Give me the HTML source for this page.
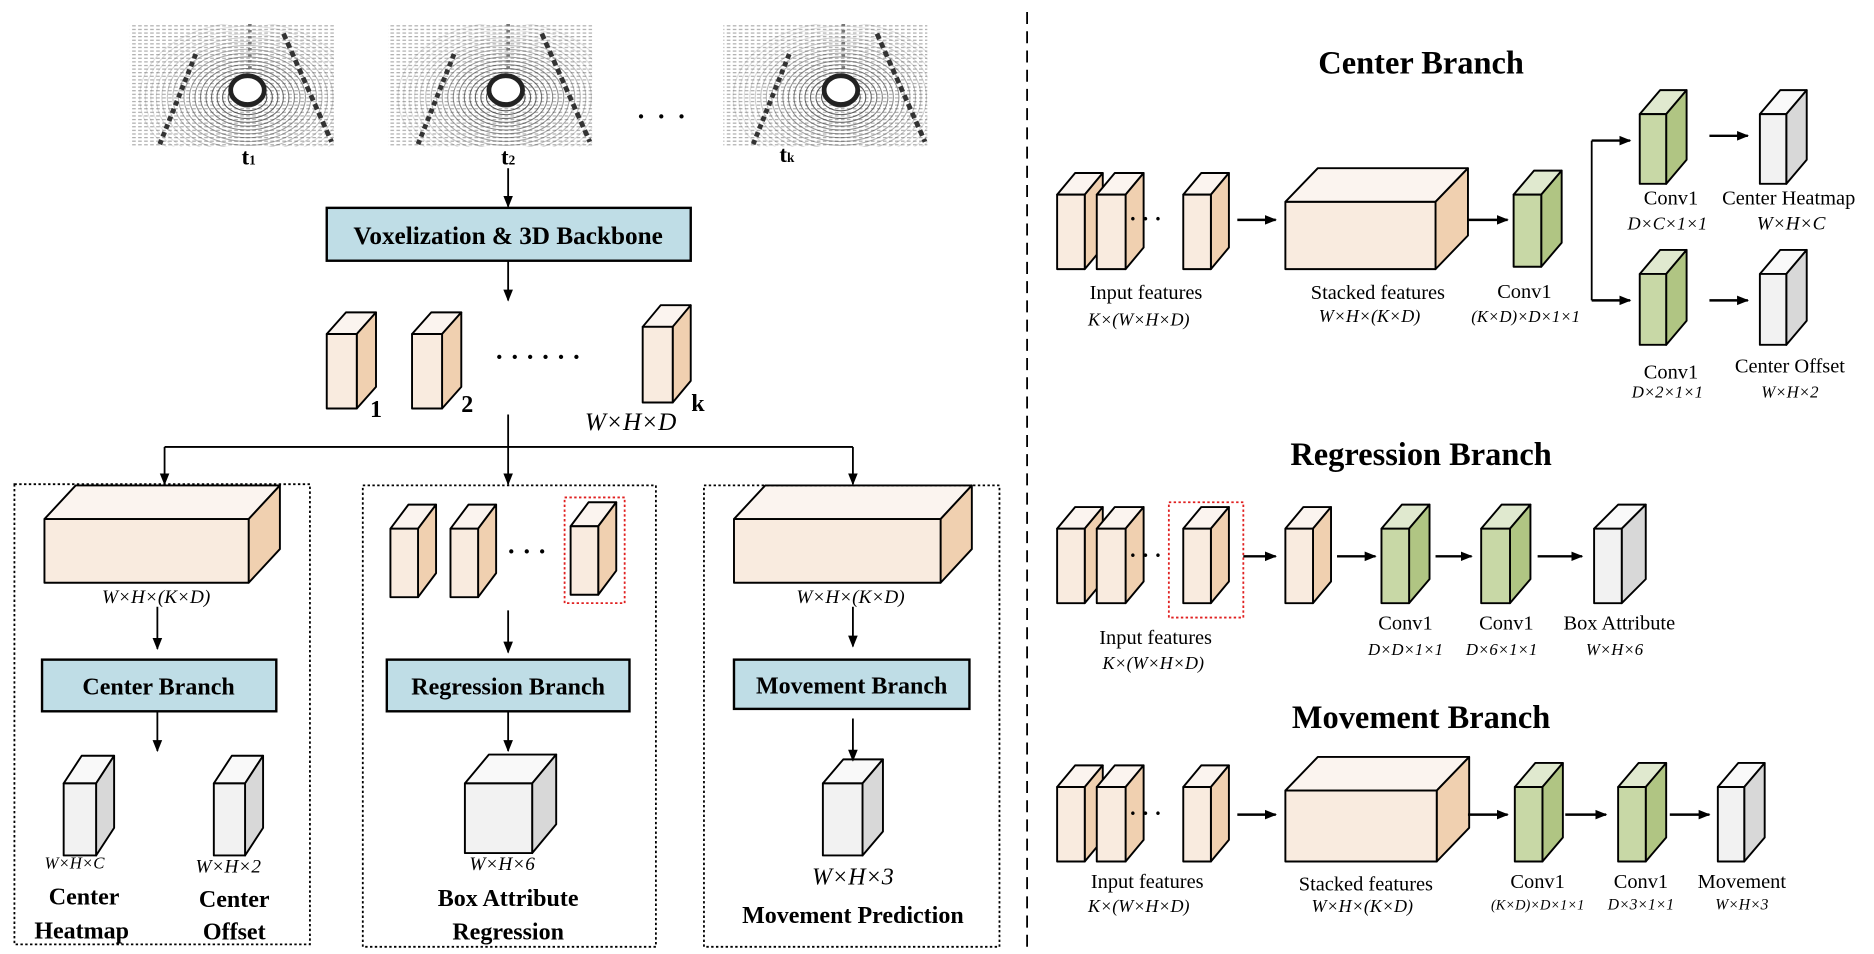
<!DOCTYPE html>
<html><head><meta charset="utf-8"><style>
html,body{margin:0;padding:0;background:#fff;}
svg{display:block;}
text{font-family:"Liberation Serif",serif;fill:#000;}
.b{font-weight:bold;}
.i{font-style:italic;}
</style></head><body>
<svg id="s" width="1874" height="954" viewBox="0 0 1560 794" preserveAspectRatio="none" xmlns="http://www.w3.org/2000/svg">
<defs>
<marker id="ar" markerWidth="10" markerHeight="10" refX="9" refY="5" orient="auto" markerUnits="userSpaceOnUse">
<path d="M0,1 L10,5 L0,9 z" fill="#000"/></marker>
<pattern id="lid" width="5" height="3" patternUnits="userSpaceOnUse"><rect width="5" height="3" fill="#fff"/><rect width="3" height="1" fill="#999"/></pattern>
<clipPath id="c0"><rect x="108" y="20" width="170" height="102"/></clipPath>
<clipPath id="c1"><rect x="323" y="20" width="170" height="102"/></clipPath>
<clipPath id="c2"><rect x="602" y="20" width="170" height="102"/></clipPath>
</defs>
<g id="lidar"></g>
<g id="shapes"></g>
<g stroke="#000" stroke-width="1.5" fill="none" marker-end="url(#ar)">
<line x1="423" y1="140" x2="423" y2="172"/>
<line x1="423" y1="217" x2="423" y2="250"/>
<line x1="137" y1="372" x2="137" y2="403"/>
<line x1="423" y1="345" x2="423" y2="403"/>
<line x1="710" y1="372" x2="710" y2="403"/>
<line x1="131" y1="505" x2="131" y2="540"/>
<line x1="131" y1="592" x2="131" y2="625"/>
<line x1="423" y1="508" x2="423" y2="543"/>
<line x1="423" y1="592" x2="423" y2="625"/>
<line x1="710" y1="505" x2="710" y2="538"/>
<line x1="710" y1="598" x2="710" y2="633"/>
<g stroke-width="2">
<line x1="1030" y1="183" x2="1062" y2="183"/>
<line x1="1222" y1="183" x2="1255" y2="183"/>
<line x1="1325" y1="117" x2="1357" y2="117"/>
<line x1="1325" y1="250" x2="1357" y2="250"/>
<line x1="1423" y1="113" x2="1455" y2="113"/>
<line x1="1423" y1="250" x2="1455" y2="250"/>
<line x1="1035" y1="463" x2="1062" y2="463"/>
<line x1="1113" y1="463" x2="1145" y2="463"/>
<line x1="1195" y1="463" x2="1225" y2="463"/>
<line x1="1280" y1="463" x2="1317" y2="463"/>
<line x1="1030" y1="678" x2="1062" y2="678"/>
<line x1="1222" y1="678" x2="1255" y2="678"/>
<line x1="1303" y1="678" x2="1337" y2="678"/>
<line x1="1390" y1="678" x2="1423" y2="678"/>
</g>
</g>
<g stroke="#000" stroke-width="1.5" fill="none">
<line x1="137" y1="372" x2="710" y2="372"/>
<line x1="1325" y1="117" x2="1325" y2="250"/>
<line x1="855" y1="10" x2="855" y2="790" stroke-dasharray="10,6"/>
<rect x="12" y="403" width="246" height="383" stroke-dasharray="2,2"/>
<rect x="302" y="404" width="244" height="384" stroke-dasharray="2,2"/>
<rect x="586" y="404" width="246" height="384" stroke-dasharray="2,2"/>
<rect x="470" y="414" width="50" height="88" stroke="#e02020" stroke-dasharray="2,2"/>
<rect x="973" y="418" width="62" height="96" stroke="#e02020" stroke-dasharray="2,2"/>
</g>
<g fill="#bfdde6" stroke="#000" stroke-width="2">
<rect x="272" y="173" width="303" height="44"/>
<rect x="35" y="549" width="195" height="43"/>
<rect x="322" y="549" width="202" height="43"/>
<rect x="611" y="549" width="196" height="41"/>
</g>
<g class="b" text-anchor="middle">
<text x="423" y="203" font-size="21">Voxelization &amp; 3D Backbone</text>
<text x="132" y="578" font-size="20">Center Branch</text>
<text x="423" y="578" font-size="20">Regression Branch</text>
<text x="709" y="577" font-size="20">Movement Branch</text>
<text x="207" y="137" font-size="19">t<tspan font-size="11">1</tspan></text>
<text x="423" y="137" font-size="19">t<tspan font-size="11">2</tspan></text>
<text x="655" y="135" font-size="19">t<tspan font-size="11">k</tspan></text>
<text x="313" y="347" font-size="20">1</text>
<text x="389" y="343" font-size="20">2</text>
<text x="581" y="342" font-size="20">k</text>
<text x="70" y="753" font-size="20">Center</text>
<text x="68" y="781" font-size="20">Heatmap</text>
<text x="195" y="755" font-size="20">Center</text>
<text x="195" y="782" font-size="20">Offset</text>
<text x="423" y="754" font-size="20">Box Attribute</text>
<text x="423" y="782" font-size="20">Regression</text>
<text x="710" y="768" font-size="20">Movement Prediction</text>
<text x="1183" y="61" font-size="27">Center Branch</text>
<text x="1183" y="387" font-size="27">Regression Branch</text>
<text x="1183" y="606" font-size="27">Movement Branch</text>
</g>
<g font-size="22" class="b"><text x="530" y="104" letter-spacing="2">· · ·</text><text x="412" y="304">· · · · · ·</text><text x="422" y="466">· · ·</text>
<text x="940" y="188" font-size="18">· · ·</text><text x="940" y="468" font-size="18">· · ·</text><text x="940" y="683" font-size="18">· · ·</text></g>
<g class="i" text-anchor="middle">
<text x="525" y="358" font-size="21">W×H×D</text>
<text x="130" y="502" font-size="16">W×H×(K×D)</text>
<text x="708" y="502" font-size="16">W×H×(K×D)</text>
<text x="62" y="723" font-size="14">W×H×C</text>
<text x="190" y="726" font-size="16">W×H×2</text>
<text x="418" y="724" font-size="16">W×H×6</text>
<text x="710" y="736" font-size="20">W×H×3</text>
<text x="948" y="271" font-size="15">K×(W×H×D)</text>
<text x="1140" y="268" font-size="15">W×H×(K×D)</text>
<text x="1270" y="268" font-size="14">(K×D)×D×1×1</text>
<text x="1388" y="191" font-size="15">D×C×1×1</text>
<text x="1491" y="191" font-size="16">W×H×C</text>
<text x="1388" y="331" font-size="14">D×2×1×1</text>
<text x="1490" y="331" font-size="14">W×H×2</text>
<text x="960" y="557" font-size="15">K×(W×H×D)</text>
<text x="1170" y="545" font-size="14">D×D×1×1</text>
<text x="1250" y="545" font-size="14">D×6×1×1</text>
<text x="1344" y="545" font-size="14">W×H×6</text>
<text x="948" y="759" font-size="15">K×(W×H×D)</text>
<text x="1134" y="759" font-size="15">W×H×(K×D)</text>
<text x="1280" y="757" font-size="12">(K×D)×D×1×1</text>
<text x="1366" y="757" font-size="13">D×3×1×1</text>
<text x="1450" y="757" font-size="13">W×H×3</text>
</g>
<g text-anchor="middle" font-size="17">
<text x="954" y="249">Input features</text>
<text x="1147" y="249">Stacked features</text>
<text x="1269" y="248">Conv1</text>
<text x="1391" y="170">Conv1</text>
<text x="1489" y="170">Center Heatmap</text>
<text x="1391" y="315">Conv1</text>
<text x="1490" y="310">Center Offset</text>
<text x="962" y="536">Input features</text>
<text x="1170" y="524">Conv1</text>
<text x="1254" y="524">Conv1</text>
<text x="1348" y="524">Box Attribute</text>
<text x="955" y="739">Input features</text>
<text x="1137" y="741">Stacked features</text>
<text x="1280" y="739">Conv1</text>
<text x="1366" y="739">Conv1</text>
<text x="1450" y="739">Movement</text>
</g>
</svg>
<script>
var NS="http://www.w3.org/2000/svg";
var C={o:["#f9ebdf","#fbf4ef","#f0d0b0"],g:["#c8d8a6","#e0e9cf","#b0c583"],w:["#f2f2f2","#f9f9f9","#d8d8d8"]};
var g=document.getElementById("shapes");
function el(t,a,p){var e=document.createElementNS(NS,t);for(var k in a)e.setAttribute(k,a[k]);(p||g).appendChild(e);return e;}
function cub(x,y,w,h,dx,dy,c){c=C[c];var st={stroke:"#000","stroke-width":1.6,"stroke-linejoin":"round"};
function P(pts,f){var a=Object.assign({points:pts,fill:f},st);el("polygon",a);}
P([x,y,x+dx,y-dy,x+w+dx,y-dy,x+w,y].join(" "),c[1]);
P([x+w,y,x+w+dx,y-dy,x+w+dx,y+h-dy,x+w,y+h].join(" "),c[2]);
el("rect",Object.assign({x:x,y:y,width:w,height:h,fill:c[0]},st));}
cub(272,278,25,62,16,18,"o");cub(343,278,25,62,16,18,"o");cub(535,272,25,63,15,18,"o");
cub(37,432,170,53,26,28,"o");
cub(325,440,23,57,15,20,"o");cub(375,440,23,57,15,20,"o");cub(475,438,23,57,15,20,"o");
cub(611,432,172,53,26,28,"o");
cub(53,652,27,60,15,23,"w");cub(178,652,26,60,15,23,"w");
cub(387,652,56,58,20,24,"w");
cub(685,652,33,60,17,20,"w");
function inp(y){cub(880,y,23,62,15,18,"o");cub(913,y,24,62,15,18,"o");cub(985,y,23,62,15,18,"o");}
inp(162);cub(1070,168,125,56,27,28,"o");cub(1260,162,23,60,17,20,"g");
cub(1365,95,22,58,17,20,"g");cub(1365,228,22,59,17,20,"g");
cub(1465,95,22,58,17,20,"w");cub(1465,228,22,59,17,20,"w");
inp(440);cub(1070,440,23,62,15,18,"o");cub(1150,440,23,62,17,20,"g");cub(1233,440,24,62,17,20,"g");cub(1327,440,23,62,20,20,"w");
inp(655);cub(1070,658,126,59,27,28,"o");cub(1261,655,23,62,17,20,"g");cub(1347,655,23,62,17,20,"g");cub(1430,655,22,62,17,20,"w");
var L=document.getElementById("lidar");
[108,323,602].forEach(function(x,i){var cx=x+98,cy=75;
var G=el("g",{"clip-path":"url(#c"+i+")"},L);
el("rect",{x:x,y:20,width:170,height:102,fill:"url(#lid)",opacity:0.8},G);
for(var r=10;r<80;r+=4)el("ellipse",{cx:cx,cy:cy+6,rx:r*1.15,ry:r*0.8,fill:"none",stroke:"#333","stroke-width":0.9,opacity:Math.max(0.15,1-r/80)},G);
el("line",{x1:x+55,y1:45,x2:x+25,y2:120,stroke:"#333","stroke-width":4,"stroke-dasharray":"4,3"},G);
el("line",{x1:x+128,y1:28,x2:x+168,y2:118,stroke:"#333","stroke-width":4,"stroke-dasharray":"5,3"},G);
el("line",{x1:x+100,y1:20,x2:x+100,y2:60,stroke:"#777","stroke-width":3,"stroke-dasharray":"2,3"},G);
el("ellipse",{cx:cx,cy:cy,rx:14,ry:12,fill:"#fff",stroke:"#222","stroke-width":4},G);
});
</script>
</body></html>
